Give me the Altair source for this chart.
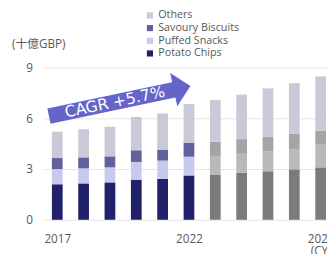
import altair as alt
import pandas as pd

years = [2017, 2018, 2019, 2020, 2021, 2022, 2023, 2024, 2025, 2026, 2027]
potato_chips = [2.10, 2.15, 2.21, 2.37, 2.42, 2.62, 2.65, 2.77, 2.87, 2.98, 3.10]
puffed_snacks = [0.90, 0.89, 0.89, 1.05, 1.08, 1.11, 1.12, 1.13, 1.17, 1.21, 1.34]
savoury_biscuits = [0.65, 0.65, 0.65, 0.69, 0.65, 0.83, 0.85, 0.87, 0.88, 0.89, 0.83]
others = [1.56, 1.66, 1.75, 1.97, 2.14, 2.29, 2.46, 2.63, 2.85, 3.00, 3.21]
last_actual_year = 2022

categories = ["Potato Chips", "Puffed Snacks", "Savoury Biscuits", "Others"]
hist_colors = ["#20206b", "#c9c9ef", "#61619e", "#c9c9d7"]
fcst_colors = ["#7b7b7b", "#b9b9b9", "#a4a4a4", "#c9c9d7"]

x_ticks = [2017, 2022, 2027]
y_ticks = [0, 3, 6, 9]

cagr_label = "CAGR +5.7%"
arrow_x = [2016.685, 2021.55]
arrow_y = [6.127, 7.72]
arrow_tip = (2022.056, 7.904)
label_pos = (2019.185, 6.95)

series = [potato_chips, puffed_snacks, savoury_biscuits, others]
rows = []
for ci, (cat, vals) in enumerate(zip(categories, series)):
    for yr, v in zip(years, vals):
        key = cat if yr <= last_actual_year else cat + " (F)"
        rows.append({"year": yr, "cat": cat, "key": key, "value": v, "ord": ci})
df = pd.DataFrame(rows)

color_domain = categories + [c + " (F)" for c in categories]
color_range = hist_colors + fcst_colors

FONT = "Open Sans, Noto Sans CJK JP"
GREY = "#595959"

xscale = alt.Scale(domain=[2016.5, 2016.5 + 290 / 27], nice=False, zero=False, padding=0)
yscale = alt.Scale(domain=[0, 9], nice=False, padding=0)

xaxis = alt.Axis(values=x_ticks, format="d", title=None, grid=False, domain=False,
                 ticks=False, labelFont=FONT, labelFontSize=12, labelColor=GREY,
                 labelPadding=14, labelFlush=False, labelLineHeight=13,
                 labelExpr="datum.value == 2027 ? ['2027', '(CY)'] : datum.label")
yaxis = alt.Axis(values=y_ticks, title="(十億GBP)", grid=True, gridColor="#e3e3e3",
                 domain=False, ticks=False, labelFont=FONT, labelFontSize=12,
                 labelColor=GREY, labelPadding=12, titleAngle=0, titleX=-6, titleY=-25,
                 titleAlign="center", titleBaseline="middle", titleFont=FONT,
                 titleFontSize=12, titleFontWeight="normal", titleColor=GREY)

def X(field):
    return alt.X(field, type="quantitative", scale=xscale, axis=xaxis)

def Y(field, stack=None):
    if stack is None:
        return alt.Y(field, type="quantitative", scale=yscale, axis=yaxis)
    return alt.Y(field, type="quantitative", scale=yscale, axis=yaxis, stack=stack)

bars = alt.Chart(df).mark_bar(size=11).encode(
    x=X("year"),
    y=Y("value", stack="zero"),
    color=alt.Color("key:N", scale=alt.Scale(domain=color_domain, range=color_range),
                    legend=alt.Legend(values=["Others", "Savoury Biscuits", "Puffed Snacks", "Potato Chips"],
                                      title=None, orient="none", legendX=103, legendY=-59,
                                      symbolType="square", symbolSize=40, symbolStrokeWidth=0,
                                      labelFont=FONT, labelFontSize=11, labelColor=GREY,
                                      labelOffset=3, rowPadding=1, padding=0)),
    order=alt.Order("ord:Q", sort="ascending"),
)

arrow_df = pd.DataFrame({"ax": arrow_x, "ay": arrow_y})
arrow_body = alt.Chart(arrow_df).mark_line(color="#6464c9", strokeWidth=16, strokeCap="butt").encode(
    x=X("ax"), y=Y("ay")
)
tip_df = pd.DataFrame({"tx": [arrow_tip[0]], "ty": [arrow_tip[1]]})
arrow_head = alt.Chart(tip_df).mark_point(
    shape="M-1,-1L0,0L-1,1Z", size=1225, filled=True, color="#6464c9", opacity=1,
    angle=348, strokeWidth=0
).encode(x=X("tx"), y=Y("ty"))
lab_df = pd.DataFrame({"lx": [label_pos[0]], "ly": [label_pos[1]], "t": [cagr_label]})
arrow_text = alt.Chart(lab_df).mark_text(
    font="DejaVu Sans", fontSize=16, color="white", angle=348, align="center", baseline="middle"
).encode(x=X("lx"), y=Y("ly"), text="t:N")

chart = alt.layer(bars, arrow_body, arrow_head, arrow_text).properties(
    width=290, height=156,
    autosize=alt.AutoSizeParams(type="none"),
    padding={"left": 37, "top": 58, "right": 0, "bottom": 32},
    background="white",
).configure_view(stroke=None)

chart.save("out.html", embed_options={"renderer": "svg", "actions": False})
